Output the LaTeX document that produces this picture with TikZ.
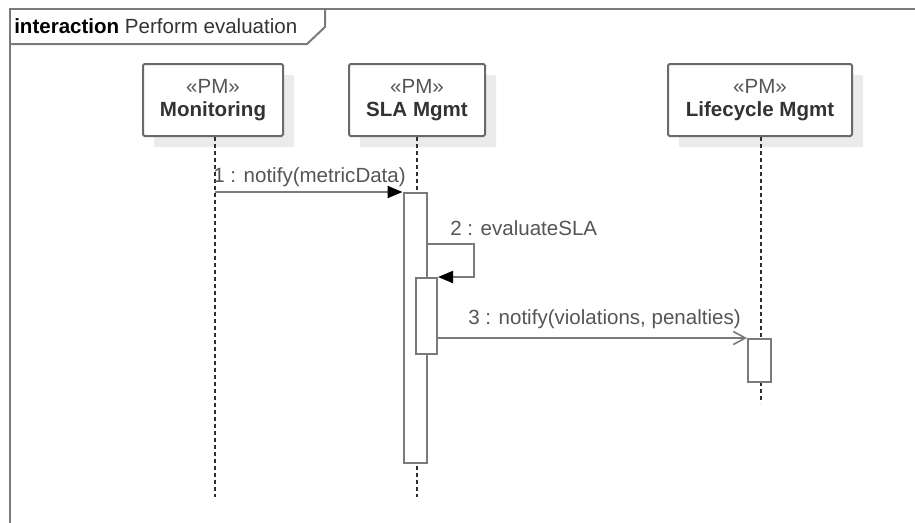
\documentclass[tikz,border=0pt]{standalone}
\usepackage{fontspec}
\setmainfont{Liberation Sans}
\usetikzlibrary{arrows.meta}
\definecolor{linegray}{HTML}{7A7A7A}
\definecolor{boxgray}{HTML}{6A6A6A}
\definecolor{shadowgray}{HTML}{EBEBEB}
\definecolor{dashgray}{HTML}{2E2E2E}
\definecolor{msgtext}{HTML}{555555}
\definecolor{nametext}{HTML}{333333}
\def\u{0.75pt}
\tikzset{
  every node/.style={font=\fontsize{15.4}{17.5}\selectfont},
  frameline/.style={draw=linegray, line width=2*\u},
  headbox/.style={draw=boxgray, fill=white, line width=2*\u, rounded corners=1.5*\u,
    minimum height=72*\u, inner sep=0pt, align=center, text=msgtext,
    preaction={fill=shadowgray, draw=none, transform canvas={xshift=11*\u, yshift=-11*\u}}},
  lifeline/.style={draw=dashgray, line width=1.4*\u, dash pattern=on 4*\u off 3*\u},
  actbar/.style={draw=linegray, fill=white, line width=2*\u, inner sep=0pt, minimum width=23*\u},
  msg/.style={draw=linegray, line width=2*\u},
  syncmsg/.style={msg, -{Triangle[length=15*\u, width=12*\u, fill=black, color=black]}},
  asyncmsg/.style={msg, -{Straight Barb[length=12*\u, width=13*\u, line width=1.6*\u]}},
  msglabel/.style={text=msgtext, inner sep=0pt},
}
\begin{document}
\begin{tikzpicture}[x=\u, y=-\u]
\useasboundingbox (0,0) rectangle (915,522);
\clip (0,0) rectangle (915,522);

% interaction frame and its name tab
\draw[frameline] (10,560) -- (10,9) -- (960,9);
\draw[frameline] (10,44) -- (307,44) -- (325,27) -- (325,9);
\node[anchor=west, inner sep=0pt] (title) at (14,26.5)
  {\textbf{interaction} \textcolor{nametext}{Perform evaluation}};

% lifeline heads
\node[headbox, minimum width=140*\u] (mon) at (213,100) {«PM»\\\textcolor{nametext}{\textbf{Monitoring}}};
\node[headbox, minimum width=136*\u] (sla) at (417,100) {«PM»\\\textcolor{nametext}{\textbf{SLA Mgmt}}};
\node[headbox, minimum width=184*\u] (lc) at (760,100) {«PM»\\\textcolor{nametext}{\textbf{Lifecycle Mgmt}}};

% lifeline ends
\coordinate (monend) at (215,497);
\coordinate (slaend) at (417,497);
\coordinate (lcend) at (761,403);

\draw[lifeline] (mon.south -| monend) -- (monend);
\draw[lifeline] (sla.south -| slaend) -- (slaend);
\draw[lifeline] (lc.south -| lcend) -- (lcend);

% execution specifications
\node[actbar, minimum height=270*\u, anchor=north] (a1) at (415,192) {};
\node[actbar, minimum width=21*\u, minimum height=76*\u, anchor=north] (a2) at (426.5,277) {};
\node[actbar, minimum height=43*\u, anchor=north] (a3) at (759.5,338) {};

% 1 : notify(metricData)
\draw[syncmsg] (monend |- a1.north west) -- (a1.north west);
\node[msglabel, anchor=west] (m1) at (213,177) {1 : notify(metricData)};

% 2 : evaluateSLA (self message)
\coordinate (s2) at (474,244);
\draw[syncmsg] (a1.east |- s2) -- (s2) |- (a2.north east);
\node[msglabel, anchor=west] (m2) at (450,228) {2 : evaluateSLA};

% 3 : notify(violations, penalties)
\draw[asyncmsg] (a2.east |- a3.north west) -- (a3.north west);
\node[msglabel, anchor=west] (m3) at (468,319) {3 : notify(violations, penalties)};
\end{tikzpicture}
\end{document}
